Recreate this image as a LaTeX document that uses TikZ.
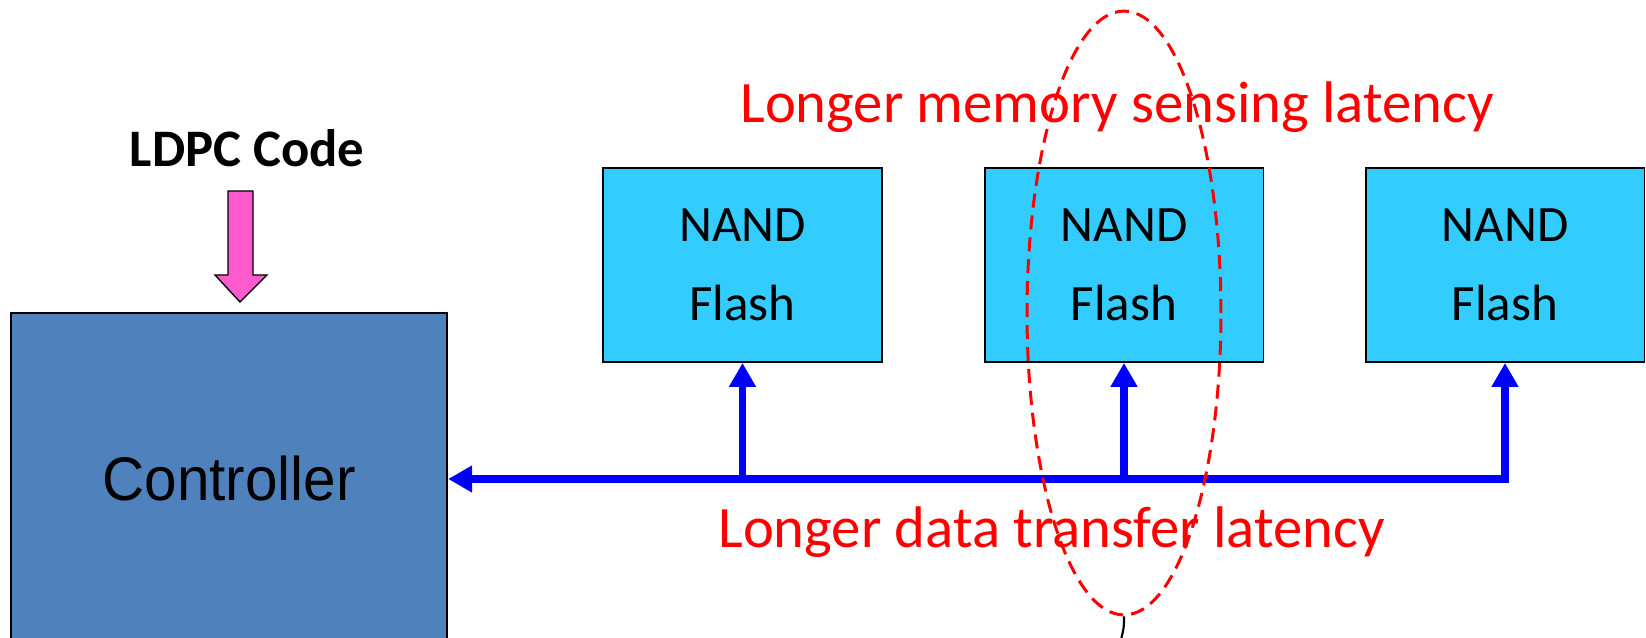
\documentclass[tikz,border=0pt]{standalone}
\usepackage{fontspec}
\setmainfont{Carlito}
\newfontfamily\narrowfont[FakeStretch=0.95]{Liberation Sans}
\usetikzlibrary{arrows.meta,shapes.geometric}
\definecolor{ctrlblue}{HTML}{4F81BD}
\definecolor{nandcyan}{HTML}{33CCFF}
\definecolor{ldpcpink}{HTML}{FF5BCF}

\begin{document}
\begin{tikzpicture}[x=0.02cm, y=-0.02cm,
                        nandbox/.style={draw=black, line width=1.1pt, fill=nandcyan, minimum width=5.58cm, minimum height=3.88cm, align=center, font=\fontsize{29}{44.8}\selectfont},
                        bus/.style={draw=blue, line width=4.2pt, line join=miter, {Triangle[length=13.6pt,width=14.5pt]}-{Triangle[length=13.6pt,width=14.5pt]}},
                        latency/.style={text=red, inner sep=0pt, font=\fontsize{33.4}{40}\selectfont}]
                        \useasboundingbox (0,0) rectangle (1646,638);

                        \node[draw, fill=ctrlblue, line width=1.1pt, minimum width=8.73cm, minimum height=6.64cm, font=\narrowfont\fontsize{35}{42}\selectfont] (ctrl) at (229,479) {Controller};
                        \node[nandbox] (nand1) at (742.5,265) {NAND\\Flash};
                        \node[nandbox] (nand2) at (1124,265) {NAND\\Flash};
                        \node[nandbox] (nand3) at (1505,265) {NAND\\Flash};

                        \node[anchor=base, inner sep=0pt, font=\bfseries\fontsize{30}{36}\selectfont] (ldpc) at (247,167) {LDPC Code};
                        \draw[fill=ldpcpink, line width=0.8pt] (228,191) -- (253,191) -- (253,275) -- (267,275) -- (240,302) -- (215,275) -- (228,275) -- cycle;

                        \draw[bus] (nand3.south) -- (nand3.south |- ctrl.east) -- (ctrl.east);
                        \draw[bus, {Triangle[length=13.6pt,width=14.5pt]}-] (nand1.south) -- (nand1.south |- ctrl.east);
                        \draw[bus, {Triangle[length=13.6pt,width=14.5pt]}-] (nand2.south) -- (nand2.south |- ctrl.east);

                        \node[latency, anchor=base west] (sense) at (740,123) {Longer memory sensing latency};
                        \node[latency, anchor=base west] (xfer) at (718,547) {Longer data transfer latency};

                        \node[draw=red, ellipse, line width=1.7pt, dash pattern=on 8pt off 4.5pt, minimum width=3.88cm, minimum height=12.08cm] (sel) at (1124,313) {};
                        \draw[line width=1.2pt] (sel.south) .. controls (1124,627) .. (1121,640);
                    \end{tikzpicture}
\end{document}
